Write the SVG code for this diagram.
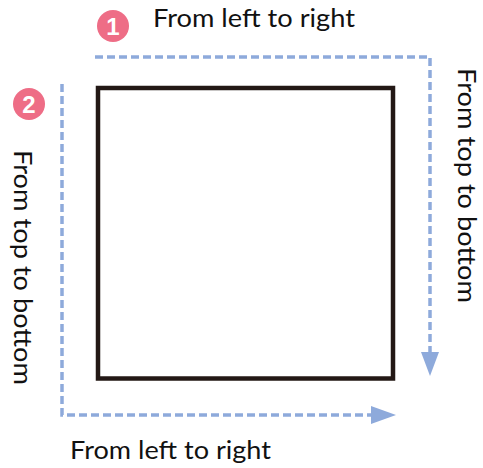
<svg xmlns="http://www.w3.org/2000/svg" width="483" height="468" viewBox="0 0 483 468">
  <style>
    .lbl { font-family: Lato, "Open Sans", "Liberation Sans", sans-serif; font-size: 25px; fill: #111111; }
    .dash { fill: none; stroke: #8eaadb; stroke-width: 3.5; stroke-dasharray: 8 4; }
    .head { fill: #8eaadb; }
    .badge { fill: #ee6d86; }
    .num { font-family: "Liberation Sans", Arial, sans-serif; font-size: 24px; font-weight: bold; fill: #ffffff; text-anchor: middle; }
  </style>
  <rect width="483" height="468" fill="#ffffff"/>
  <g id="square">
    <rect x="98" y="88" width="295" height="290.5" fill="none" stroke="#231815" stroke-width="4.5"/>
  </g>
  <g id="connectors">
    <polyline class="dash" points="95,57 430,57 430,352"/>
    <polygon class="head" points="421,352 439,352 430,376"/>
    <polyline class="dash" points="62,84 62,415 371,415"/>
    <polygon class="head" points="371,406 371,424 396,415"/>
  </g>
  <g id="badge1">
    <circle class="badge" cx="113" cy="26" r="16"/>
    <text class="num" x="113" y="34.5">1</text>
  </g>
  <g id="badge2">
    <circle class="badge" cx="29" cy="104" r="16"/>
    <text class="num" x="29" y="112.5">2</text>
  </g>
  <g id="label-top">
    <text class="lbl" x="153" y="26.5" textLength="202" lengthAdjust="spacingAndGlyphs">From left to right</text>
  </g>
  <g id="label-right">
    <text class="lbl" transform="translate(457.5,68) rotate(90)" x="0" y="0" textLength="235" lengthAdjust="spacingAndGlyphs">From top to bottom</text>
  </g>
  <g id="label-left">
    <text class="lbl" transform="translate(14,150) rotate(90)" x="0" y="0" textLength="235" lengthAdjust="spacingAndGlyphs">From top to bottom</text>
  </g>
  <g id="label-bottom">
    <text class="lbl" x="70" y="458.5" textLength="201" lengthAdjust="spacingAndGlyphs">From left to right</text>
  </g>
</svg>
